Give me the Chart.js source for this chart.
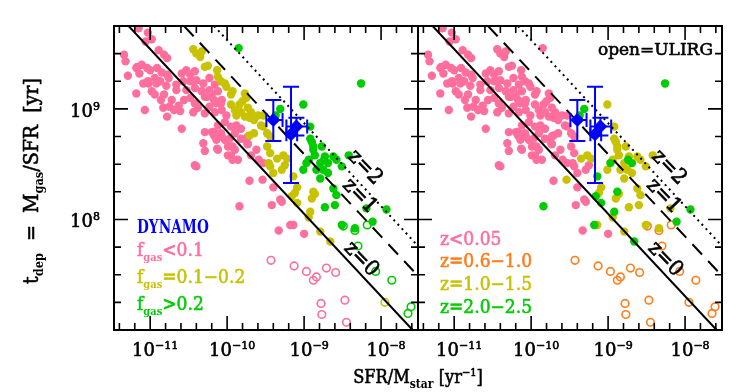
<!DOCTYPE html>
<html>
<head>
<meta charset="utf-8">
<script src="https://cdn.jsdelivr.net/npm/chart.js@4.4.0/dist/chart.umd.min.js"></script>
<style>
  html, body { margin: 0; padding: 0; background: #fff; }
  #wrap { position: relative; width: 739px; height: 392px; }
  #wrap canvas { position: absolute; left: 0; top: 0; }
</style>
</head>
<body>
<div id="wrap">
  <canvas id="left" width="739" height="392"></canvas>
  <canvas id="right" width="739" height="392"></canvas>
</div>
<script>
// all values are log10: [log sSFR (yr^-1), log t_dep (yr)]
const SSFR_MIN = -11.47, SSFR_MAX = -7.52;
const TDEP_MIN = 7.0, TDEP_MAX = 9.75;

// z<0.05, fgas<0.1
const localLowGas = [
  [-11.15,9.73],[-11.03,9.69],[-11.06,9.61],[-10.89,9.53],[-10.82,9.49],[-10.78,9.46],[-11.34,9.49],[-11.32,9.43],
  [-11.29,9.30],[-11.17,9.38],[-11.11,9.40],[-11.04,9.37],[-11.00,9.35],[-10.91,9.37],[-10.85,9.33],[-10.78,9.31],
  [-11.14,9.32],[-11.09,9.23],[-11.02,9.23],[-10.94,9.28],[-10.87,9.25],[-10.76,9.28],[-10.66,9.22],[-10.98,9.16],
  [-10.94,9.13],[-11.18,9.14],[-11.07,8.99],[-10.72,9.08],[-10.83,9.01],[-10.78,8.93],[-10.63,9.03],[-10.61,8.98],
  [-10.59,8.82],[-10.59,9.32],[-10.53,9.35],[-10.48,9.31],[-10.42,9.34],[-10.57,9.25],[-10.48,9.25],[-10.40,9.26],
  [-10.31,9.23],[-10.23,9.28],[-10.53,9.17],[-10.42,9.19],[-10.33,9.16],[-10.23,9.17],[-10.16,9.22],[-10.48,9.10],
  [-10.42,9.05],[-10.38,9.01],[-10.44,8.97],[-10.29,9.11],[-10.20,9.13],[-10.12,9.16],[-10.07,9.08],[-10.14,9.05],
  [-10.23,9.02],[-10.29,8.96],[-10.16,8.97],[-10.07,8.99],[-10.01,8.94],[-10.03,8.88],[-10.12,8.85],[-10.20,8.79],
  [-10.29,8.79],[-9.95,8.84],[-9.88,8.85],[-9.82,8.82],[-9.90,8.78],[-9.82,8.73],[-9.73,8.75],[-9.73,8.68],
  [-9.97,8.73],[-10.03,8.72],[-10.31,8.69],[-10.29,8.62],[-10.12,8.63],[-9.99,8.58],[-9.86,8.54],[-10.42,8.49],
  [-10.40,8.48],[-9.93,8.66],[-10.17,8.76],[-10.07,8.75],[-10.14,8.72],[-9.99,8.66],[-9.90,8.63],[-9.71,8.35],
  [-9.53,8.51],[-9.40,8.29],[-9.31,8.18],[-9.93,8.54],[-9.42,8.13],[-9.29,8.16],[-9.33,7.90],[-9.00,7.87],
  [-10.79,9.21],[-10.82,9.13],[-10.69,8.99],[-9.69,8.58],[-10.98,9.63],[-11.18,9.37],[-11.03,9.25],[-10.92,9.23],
  [-10.66,9.17],[-10.56,9.08],[-10.86,9.08],[-10.75,9.02],[-10.17,8.79],[-10.08,8.78],[-10.13,8.64],[-9.95,8.58],
  [-9.74,8.69],[-10.26,9.11],[-10.17,9.08],[-10.08,9.05],[-9.62,8.63],[-9.59,8.54]
];
// z<0.05, fgas 0.1-0.2
const localMidGas = [
  [-10.44,9.54],[-10.40,9.50],[-10.33,9.52],[-10.35,9.47],[-10.29,9.38],[-10.25,9.39],[-10.12,9.29],[-10.08,9.25],
  [-10.03,9.23],[-10.01,9.20],[-9.93,9.16],[-9.95,9.13],[-9.77,9.14],[-9.75,9.10],[-9.80,9.07],[-9.84,9.04],
  [-9.73,9.01],[-9.69,8.97],[-9.82,8.97],[-9.77,8.93],[-9.71,8.92],[-9.65,8.90],[-9.60,8.94],[-9.56,8.85],
  [-9.95,9.04],[-9.90,8.99],[-9.88,8.94],[-9.71,8.76],[-9.53,8.84],[-9.48,8.78],[-9.44,8.75],[-9.65,8.78],
  [-10.13,9.35],[-9.48,8.66],[-9.44,8.60],[-9.46,8.51],[-9.44,8.48],[-9.40,8.42],[-9.29,8.45],[-9.25,8.49],
  [-9.53,8.94]
];
// z<0.05, fgas>0.2
const localHighGas = [[-9.85,9.55]];
// z=1.0-1.5
const z1LowGas = [[-9.14,7.95],[-9.54,8.36]];
const z1MidGas = [
  [-9.27,8.58],[-9.09,8.29],[-9.12,8.24],[-8.90,8.19],[-8.86,8.23],[-8.94,8.02],[-8.79,7.89],[-9.35,8.55],
  [-9.22,8.55]
];
const z1HighGas = [
  [-9.01,9.04],[-8.92,8.84],[-8.90,8.70],[-8.88,8.66],[-8.77,8.66],[-8.73,8.57],[-8.62,8.57],[-8.51,8.48],
  [-8.84,8.45],[-8.79,8.37],[-8.62,8.28],[-8.73,8.11],[-8.19,8.10],[-8.51,7.95],[-8.34,7.92],[-8.58,8.22],
  [-8.58,8.54],[-8.42,8.58],[-8.86,8.58],[-8.79,8.51],[-8.75,8.45],[-8.69,8.42],[-9.01,8.45],[-8.92,8.73],
  [-8.88,8.63],[-8.94,8.54],[-8.60,8.13]
];
// z=2.0-2.5
const z2LowGas = [[-9.84,8.12],[-9.18,7.95]];
const z2MidGas = [[-9.14,8.39],[-9.09,8.15],[-8.88,8.25],[-8.92,8.07],[-8.66,7.80],[-9.16,8.21]];
const z2HighGas = [
  [-8.26,9.23],[-9.31,9.00],[-9.37,8.94],[-8.97,8.51],[-8.74,8.54],[-8.69,8.51],[-7.93,8.09],[-8.11,7.98]
];
// ULIRGs, z=0.6-1.0 (open symbols)
const ulirgLowGas = [
  [-9.43,7.63],[-9.13,7.58],[-8.97,7.53],[-8.88,7.45],[-8.84,7.48],[-8.71,7.56],[-8.59,7.52],[-8.78,7.24],
  [-8.77,7.14],[-8.47,7.27],[-8.45,7.07]
];
const ulirgMidGas = [[-7.95,7.25]];
const ulirgHighGas = [[-8.49,7.94],[-8.34,7.90],[-8.30,7.76],[-8.18,7.95],[-8.07,7.53],[-7.86,7.45],[-7.61,7.21],[-7.65,7.15]];

// DYNAMO with error bars
const dynamoSsfr   = [-9.40, -9.17, -9.10];
const dynamoTdep   = [8.90, 8.77, 8.84];
const dynamoSsfrLo = [-9.49, -9.23, -9.23];
const dynamoSsfrHi = [-9.28, -9.09, -8.96];
const dynamoTdepLo = [8.71, 8.33, 8.76];
const dynamoTdepHi = [9.08, 9.20, 8.92];

// scaling relations at z=0,1,2
const lineZ0 = [[-11.28, 9.75], [-7.59, 7.00]];
const lineZ1 = [[-10.56, 9.75], [-7.52, 7.49]];
const lineZ2 = [[-10.17, 9.75], [-7.52, 7.76]];
const lineLabels = [
  { text: 'z=0', at: [-8.26, 7.64] },
  { text: 'z=1', at: [-8.28, 8.21] },
  { text: 'z=2', at: [-8.21, 8.47] }
];

const xMajor = [-11, -10, -9, -8];
const yMajor = [8, 9];

const PINK = '#ff6e9c', OLIVE = '#c8c200', GREEN = '#00cc00', ORANGE = '#ff7d1a', BLUE = '#0000ff';
const FAMILY = "'DejaVu Serif', serif";

const toPts = arr => arr.map(([lx, ly]) => ({ x: 10 ** lx, y: 10 ** ly }));
const dots = (arr, color, order) => ({
  data: toPts(arr), order, pointRadius: 4.2, pointHoverRadius: 4.2,
  pointBorderWidth: 0, pointBackgroundColor: color
});
const rings = (arr, color, order) => ({
  data: toPts(arr), order, pointRadius: 3.8, pointHoverRadius: 3.8,
  pointBorderWidth: 1.6, pointBorderColor: color, pointBackgroundColor: 'rgba(0,0,0,0)'
});
const rule = (arr, dash) => ({
  data: toPts(arr), order: 1, showLine: true, fill: false, pointRadius: 0,
  borderColor: '#000', borderWidth: 2, borderDash: dash
});
const dynamo = () => ({
  data: dynamoSsfr.map((v, i) => ({ x: 10 ** v, y: 10 ** dynamoTdep[i] })),
  order: 0, pointStyle: 'rectRot', pointRadius: 7, pointHoverRadius: 7,
  pointBorderWidth: 0, pointBackgroundColor: BLUE
});

// draws a run of text pieces [text, size, weight, dy]; sx squeezes it sideways
function drawParts(ctx, parts, x, y, align, sx = 1, heavy = 0.6) {
  const fontOf = p => `${p[2] || ''} ${p[1]}px ${FAMILY}`.trim();
  let w = 0;
  for (const p of parts) { ctx.font = fontOf(p); w += ctx.measureText(p[0]).width; }
  const start = align === 'center' ? x - w * sx / 2 : align === 'right' ? x - w * sx : x;
  ctx.save();
  ctx.translate(start, y);
  ctx.scale(sx, 1);
  ctx.strokeStyle = ctx.fillStyle;
  ctx.lineWidth = heavy;
  ctx.lineJoin = 'round';
  let cx = 0;
  for (const p of parts) {
    ctx.font = fontOf(p);
    ctx.fillText(p[0], cx, p[3] || 0);
    if (heavy && !p[2]) ctx.strokeText(p[0], cx, p[3] || 0);
    cx += ctx.measureText(p[0]).width;
  }
  ctx.restore();
}

const panelDecor = {
  id: 'panelDecor',
  afterDatasetsDraw(chart) {
    const { ctx, chartArea: a, scales: { x, y } } = chart;
    ctx.save();
    ctx.beginPath();
    ctx.rect(a.left, a.top, a.right - a.left, a.bottom - a.top);
    ctx.clip();
    ctx.strokeStyle = BLUE;
    ctx.lineWidth = 2;
    dynamoSsfr.forEach((v, i) => {
      const px = x.getPixelForValue(10 ** v), py = y.getPixelForValue(10 ** dynamoTdep[i]);
      const x0 = x.getPixelForValue(10 ** dynamoSsfrLo[i]), x1 = x.getPixelForValue(10 ** dynamoSsfrHi[i]);
      const y0 = y.getPixelForValue(10 ** dynamoTdepLo[i]), y1 = y.getPixelForValue(10 ** dynamoTdepHi[i]);
      ctx.beginPath();
      ctx.moveTo(px, y0); ctx.lineTo(px, y1);
      ctx.moveTo(px - 8, y0); ctx.lineTo(px + 8, y0);
      ctx.moveTo(px - 8, y1); ctx.lineTo(px + 8, y1);
      ctx.moveTo(x0, py); ctx.lineTo(x1, py);
      ctx.moveTo(x0, py - 7); ctx.lineTo(x0, py + 7);
      ctx.moveTo(x1, py - 7); ctx.lineTo(x1, py + 7);
      ctx.stroke();
    });
    ctx.restore();
  },
  afterDraw(chart, args, opts) {
    const { ctx, chartArea: a, scales: { x, y } } = chart;
    ctx.save();
    ctx.strokeStyle = '#000';
    ctx.fillStyle = '#000';

    // inward ticks on all four sides
    ctx.lineWidth = 1.6;
    ctx.beginPath();
    for (let k = -57; k <= -38; k++) {
      const px = x.getPixelForValue(10 ** (k / 5));
      const len = k % 5 === 0 ? 14 : 7;
      ctx.moveTo(px, a.bottom); ctx.lineTo(px, a.bottom - len);
      ctx.moveTo(px, a.top); ctx.lineTo(px, a.top + len);
    }
    for (let k = 29; k <= 38; k++) {
      const py = y.getPixelForValue(10 ** (k / 4));
      const len = k % 4 === 0 ? 14 : 7;
      ctx.moveTo(a.left, py); ctx.lineTo(a.left + len, py);
      ctx.moveTo(a.right, py); ctx.lineTo(a.right - len, py);
    }
    ctx.stroke();
    ctx.lineWidth = 2;
    ctx.strokeRect(a.left, a.top, a.right - a.left, a.bottom - a.top);

    // tick labels
    ctx.textBaseline = 'alphabetic';
    xMajor.forEach(v => {
      const px = x.getPixelForValue(10 ** v);
      drawParts(ctx, [['10', 18], ['\u2212' + Math.abs(v), 11, '', -7]], px + 5, a.bottom + 26, 'center');
    });
    if (opts.yLabels) {
      yMajor.forEach(v => {
        const py = y.getPixelForValue(10 ** v);
        drawParts(ctx, [['10', 18], [String(v), 11, '', -7]], a.left - 14, py + 8, 'right');
      });
    }

    // relation labels, rotated along the lines
    ctx.textBaseline = 'middle';
    lineLabels.forEach(l => {
      ctx.save();
      ctx.translate(x.getPixelForValue(10 ** l.at[0]), y.getPixelForValue(10 ** l.at[1]));
      ctx.rotate(46 * Math.PI / 180);
      drawParts(ctx, [[l.text, 21]], 0, 0, 'center', 0.95, 0.7);
      ctx.restore();
    });

    // legend text and notes
    ctx.textBaseline = 'alphabetic';
    (opts.notes || []).forEach(n => {
      ctx.fillStyle = n.color;
      drawParts(ctx, n.parts, n.x, n.y, n.align || 'left', n.sx || 1);
    });

    // axis titles
    if (opts.titles) {
      ctx.fillStyle = '#000';
      drawParts(ctx, [['SFR/M', 18], ['star', 12, 'bold', 5], [' [yr', 18], ['\u22121', 11, '', -7], [']', 18]], 418, 383, 'center', 0.9);
      ctx.save();
      ctx.translate(38, 181);
      ctx.rotate(-Math.PI / 2);
      drawParts(ctx, [['t', 20], ['dep', 12, 'bold', 5], ['  =  M', 20], ['gas', 12, 'bold', 5], ['/SFR  [yr]', 20]], 0, 0, 'center', 0.95);
      ctx.restore();
    }
    ctx.restore();
  }
};

function makePanel(id, datasets, padding, decor) {
  return new Chart(document.getElementById(id), {
    type: 'scatter',
    data: { datasets },
    options: {
      responsive: false,
      animation: false,
      devicePixelRatio: 1,
      events: [],
      layout: { padding },
      plugins: { legend: { display: false }, tooltip: { enabled: false }, panelDecor: decor },
      scales: {
        x: { type: 'logarithmic', display: false, bounds: 'data', min: 10 ** SSFR_MIN, max: 10 ** SSFR_MAX },
        y: { type: 'logarithmic', display: false, bounds: 'data', min: 10 ** TDEP_MIN, max: 10 ** TDEP_MAX }
      }
    },
    plugins: [panelDecor]
  });
}

// left: coloured by gas fraction
makePanel('left', [
  dynamo(),
  rule(lineZ0, []), rule(lineZ1, [14, 9]), rule(lineZ2, [2, 4]),
  dots(localHighGas, GREEN, 2), dots(z1HighGas, GREEN, 2), dots(z2HighGas, GREEN, 2),
  dots(localMidGas, OLIVE, 3), dots(z1MidGas, OLIVE, 3), dots(z2MidGas, OLIVE, 3),
  dots(localLowGas, PINK, 4), dots(z1LowGas, PINK, 4), dots(z2LowGas, PINK, 4),
  rings(ulirgLowGas, PINK, 5), rings(ulirgMidGas, OLIVE, 5), rings(ulirgHighGas, GREEN, 5)
], { left: 114, right: 321, top: 26, bottom: 62 }, {
  yLabels: true,
  titles: true,
  notes: [
    { parts: [['DYNAMO', 18, 'bold']], color: BLUE, x: 137, y: 233, sx: 0.76 },
    { parts: [['f', 19], ['gas', 11, 'bold', 5], ['<0.1', 19]], color: PINK, x: 137, y: 256, sx: 0.9 },
    { parts: [['f', 19], ['gas', 11, 'bold', 5], ['=0.1\u22120.2', 19]], color: OLIVE, x: 137, y: 283, sx: 0.9 },
    { parts: [['f', 19], ['gas', 11, 'bold', 5], ['>0.2', 19]], color: GREEN, x: 137, y: 310, sx: 0.9 }
  ]
});

// right: coloured by redshift
makePanel('right', [
  dynamo(),
  rule(lineZ0, []), rule(lineZ1, [14, 9]), rule(lineZ2, [2, 4]),
  dots(z2LowGas, GREEN, 2), dots(z2MidGas, GREEN, 2), dots(z2HighGas, GREEN, 2),
  dots(z1LowGas, OLIVE, 3), dots(z1MidGas, OLIVE, 3), dots(z1HighGas, OLIVE, 3),
  rings(ulirgLowGas, ORANGE, 4), rings(ulirgMidGas, ORANGE, 4), rings(ulirgHighGas, ORANGE, 4),
  dots(localLowGas, PINK, 5), dots(localMidGas, PINK, 5), dots(localHighGas, PINK, 5)
], { left: 418, right: 17, top: 26, bottom: 62 }, {
  yLabels: false,
  titles: false,
  notes: [
    { parts: [['open=ULIRG', 17]], color: '#000', x: 713, y: 55, align: 'right' },
    { parts: [['z<0.05', 19]], color: PINK, x: 440, y: 245, sx: 0.9 },
    { parts: [['z=0.6\u22121.0', 19]], color: ORANGE, x: 440, y: 267, sx: 0.9 },
    { parts: [['z=1.0\u22121.5', 19]], color: OLIVE, x: 440, y: 290, sx: 0.9 },
    { parts: [['z=2.0\u22122.5', 19]], color: GREEN, x: 440, y: 313, sx: 0.9 }
  ]
});
</script>
</body>
</html>
